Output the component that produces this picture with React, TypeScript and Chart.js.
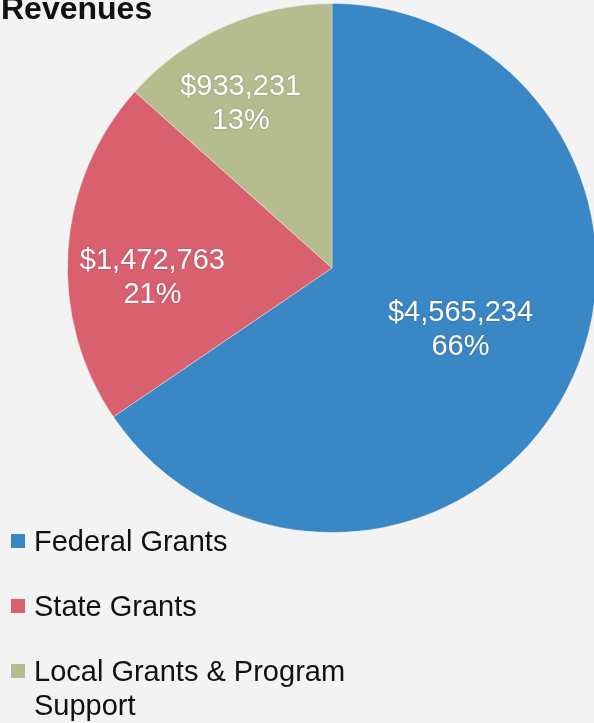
import React, { useEffect, useRef } from "react";
import { Chart, registerables } from "chart.js";

Chart.register(...registerables);

const titleText = "Revenues";
const categories = ["Federal Grants", "State Grants", "Local Grants & Program Support"];
const revenues = [4565234, 1472763, 933231];
const sliceColors = ["#3A87C6", "#D9606F", "#B5BD8F"];

const FONT = '"Liberation Sans", Arial, Helvetica, sans-serif';

// label placement inside each slice: fraction of radius and angular nudge (degrees)
const labelPlacement = [
  { r: 0.54, a: -2 },
  { r: 0.68, a: -7 },
  { r: 0.71, a: -5 },
];

function roundedPercents(values: number[]): number[] {
  const total = values.reduce((s, v) => s + v, 0);
  const raw = values.map((v) => (v / total) * 100);
  const floors = raw.map((v) => Math.floor(v));
  let rest = 100 - floors.reduce((s, v) => s + v, 0);
  const order = raw
    .map((v, i) => ({ i, rem: v - Math.floor(v) }))
    .sort((a, b) => b.rem - a.rem);
  for (let k = 0; k < order.length && rest > 0; k++, rest--) floors[order[k].i] += 1;
  return floors;
}

const sliceLabels = {
  id: "sliceLabels",
  afterDatasetsDraw(chart: any) {
    const ctx = chart.ctx;
    const meta = chart.getDatasetMeta(0);
    const data = chart.data.datasets[0].data as number[];
    const pct = roundedPercents(data);
    meta.data.forEach((arc: any, i: number) => {
      const { x, y, startAngle, endAngle, outerRadius } = arc.getProps(
        ["x", "y", "startAngle", "endAngle", "outerRadius"],
        true
      );
      const p = labelPlacement[i];
      const ang = (startAngle + endAngle) / 2 + (p.a * Math.PI) / 180;
      const d = outerRadius * p.r;
      const cx = x + Math.cos(ang) * d;
      const cy = y + Math.sin(ang) * d;
      ctx.save();
      ctx.font = `29px ${FONT}`;
      ctx.fillStyle = "#ffffff";
      ctx.textAlign = "center";
      ctx.textBaseline = "middle";
      ctx.shadowColor = "rgba(60,30,40,0.35)";
      ctx.shadowBlur = 2;
      ctx.fillText("$" + data[i].toLocaleString("en-US"), cx, cy - 17);
      ctx.fillText(pct[i] + "%", cx, cy + 17);
      ctx.restore();
    });
  },
};

export default function App() {
  const canvasRef = useRef<HTMLCanvasElement | null>(null);

  useEffect(() => {
    document.body.style.margin = "0";
    document.body.style.background = "#f3f3f3";
    const canvas = canvasRef.current;
    if (!canvas) return;
    const chart = new Chart(canvas, {
      type: "pie",
      data: {
        labels: categories,
        datasets: [
          {
            data: revenues,
            backgroundColor: sliceColors,
            borderColor: "rgba(255,255,255,0.35)",
            borderWidth: 1,
          },
        ],
      },
      options: {
        responsive: false,
        animation: false,
        layout: { padding: { left: 67, right: 23, top: 3, bottom: 190 } },
        plugins: {
          legend: { display: false },
          tooltip: { enabled: false },
          title: { display: false },
        },
      },
      plugins: [sliceLabels],
    });
    return () => chart.destroy();
  }, []);

  return (
    <div
      style={{
        position: "absolute",
        left: 0,
        top: 0,
        width: 594,
        height: 723,
        overflow: "hidden",
        background: "#f3f3f3",
        fontFamily: FONT,
      }}
    >
      <canvas
        ref={canvasRef}
        width={620}
        height={723}
        style={{ position: "absolute", left: 0, top: 0, width: 620, height: 723 }}
      />
      <div
        style={{
          position: "absolute",
          left: 1,
          top: -8,
          fontSize: 32,
          lineHeight: "32px",
          fontWeight: "bold",
          color: "#111",
          whiteSpace: "nowrap",
        }}
      >
        {titleText}
      </div>
      <div style={{ position: "absolute", left: 11, top: 524, width: 360 }}>
        {categories.map((c, i) => (
          <div
            key={c}
            style={{
              display: "flex",
              alignItems: "flex-start",
              marginBottom: 31,
            }}
          >
            <div
              style={{
                width: 14,
                height: 14,
                marginTop: 10,
                marginRight: 9,
                flex: "0 0 auto",
                background: sliceColors[i],
              }}
            />
            <div
              style={{
                fontSize: 29,
                lineHeight: "34px",
                color: "#111",
                width: 330,
              }}
            >
              {c}
            </div>
          </div>
        ))}
      </div>
    </div>
  );
}
